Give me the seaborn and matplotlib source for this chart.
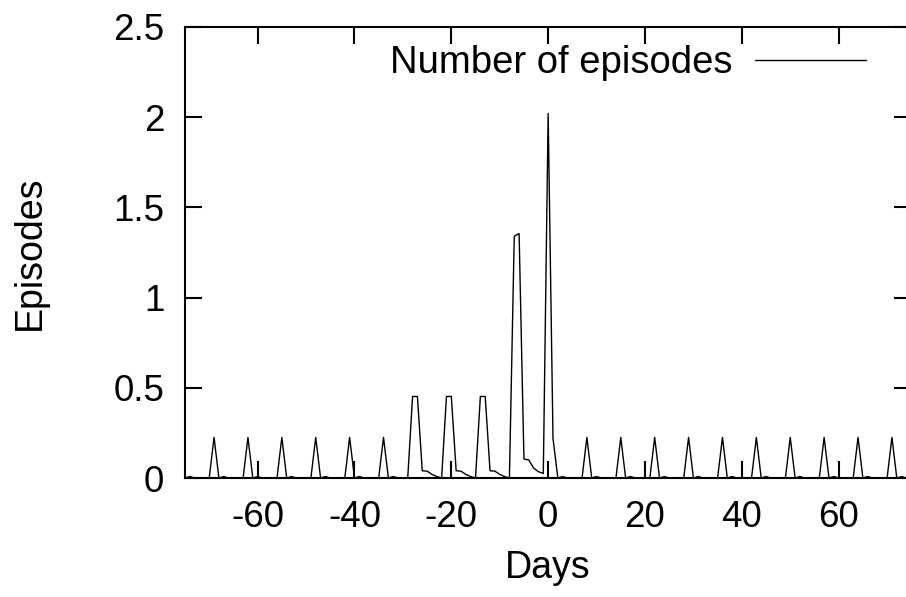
import numpy as np
import pandas as pd
import seaborn as sns
import matplotlib
matplotlib.use("Agg")
import matplotlib.pyplot as plt

# day offsets relative to the reference day
days = list(range(-75, 76))

# number of episodes per day (one value per day, -75 .. 75)
episodes = [
    # -75 .. -71
    0, 0.008, 0, 0, 0,
    # -70 .. -64
    0, 0.225, 0, 0.008, 0, 0, 0,
    # -63 .. -57
    0, 0.225, 0, 0.008, 0, 0, 0,
    # -56 .. -50
    0, 0.225, 0, 0.008, 0, 0, 0,
    # -49 .. -43
    0, 0.225, 0, 0.008, 0, 0, 0,
    # -42 .. -36
    0, 0.225, 0, 0.008, 0, 0, 0,
    # -35 .. -29
    0, 0.225, 0, 0.008, 0, 0, 0,
    # -28 .. -22
    0.452, 0.452, 0.04, 0.038, 0.02, 0.008, 0,
    # -21 .. -15
    0.452, 0.452, 0.04, 0.038, 0.02, 0.008, 0,
    # -14 .. -8
    0.452, 0.452, 0.04, 0.038, 0.02, 0.008, 0,
    # -7 .. -1
    1.34, 1.355, 0.105, 0.1, 0.055, 0.035, 0.025,
    # 0 .. 6
    2.02, 0.22, 0, 0.008, 0, 0, 0,
    # 7 .. 13
    0, 0.225, 0, 0.008, 0, 0, 0,
    # 14 .. 20
    0, 0.225, 0, 0.008, 0, 0, 0,
    # 21 .. 27
    0, 0.225, 0, 0.008, 0, 0, 0,
    # 28 .. 34
    0, 0.225, 0, 0.008, 0, 0, 0,
    # 35 .. 41
    0, 0.225, 0, 0.008, 0, 0, 0,
    # 42 .. 48
    0, 0.225, 0, 0.008, 0, 0, 0,
    # 49 .. 55
    0, 0.225, 0, 0.008, 0, 0, 0,
    # 56 .. 62
    0, 0.225, 0, 0.008, 0, 0, 0,
    # 63 .. 69
    0, 0.225, 0, 0.008, 0, 0, 0,
    # 70 .. 75
    0, 0.225, 0, 0.008, 0, 0,
]

x_ticks = [-60, -40, -20, 0, 20, 40, 60]
y_ticks = [0, 0.5, 1, 1.5, 2, 2.5]
y_tick_labels = ["0", "0.5", "1", "1.5", "2", "2.5"]

df = pd.DataFrame({"Days": days, "Episodes": episodes})

sns.set_style("ticks", {"text.color": "black", "axes.labelcolor": "black",
                        "xtick.color": "black", "ytick.color": "black",
                        "axes.edgecolor": "black"})
plt.rcParams["font.family"] = ["Liberation Sans", "DejaVu Sans"]
plt.rcParams["axes.unicode_minus"] = False

fig = plt.figure(figsize=(9.06, 5.97), dpi=100)
ax = fig.add_axes([185 / 906, 119 / 597, 726.3 / 906, 451 / 597])

sns.lineplot(data=df, x="Days", y="Episodes", ax=ax, color="black",
             linewidth=1.0, label="Number of episodes")

ax.set_xlim(-75, 75)
ax.set_ylim(0, 2.5)
ax.set_xticks(x_ticks)
ax.set_xticklabels([str(t) for t in x_ticks])
ax.set_yticks(y_ticks)
ax.set_yticklabels(y_tick_labels)

for side in ["left", "top", "bottom"]:
    ax.spines[side].set_visible(True)
    ax.spines[side].set_linewidth(1.5)
    ax.spines[side].set_color("black")
# the right border falls just outside the picture
ax.spines["right"].set_visible(False)

ax.tick_params(axis="both", direction="in", length=12, width=1.5,
               color="black", labelcolor="black", labelsize=26.5,
               top=True, right=True)
ax.tick_params(axis="x", pad=16)
ax.tick_params(axis="y", pad=15)

ax.set_xlabel("Days", fontsize=27, color="black")
ax.set_ylabel("Episodes", fontsize=27, color="black")
ax.xaxis.set_label_coords(0.5, -0.16)
ax.yaxis.set_label_coords(-0.189, 0.5)

leg = ax.legend(loc="center right", bbox_to_anchor=(0.9376, 0.920),
                frameon=False, markerfirst=False, fontsize=27.5,
                handlelength=2.9, handletextpad=0.6, borderpad=0,
                borderaxespad=0)
for t in leg.get_texts():
    t.set_color("black")

fig.savefig("out.png", dpi=100)
